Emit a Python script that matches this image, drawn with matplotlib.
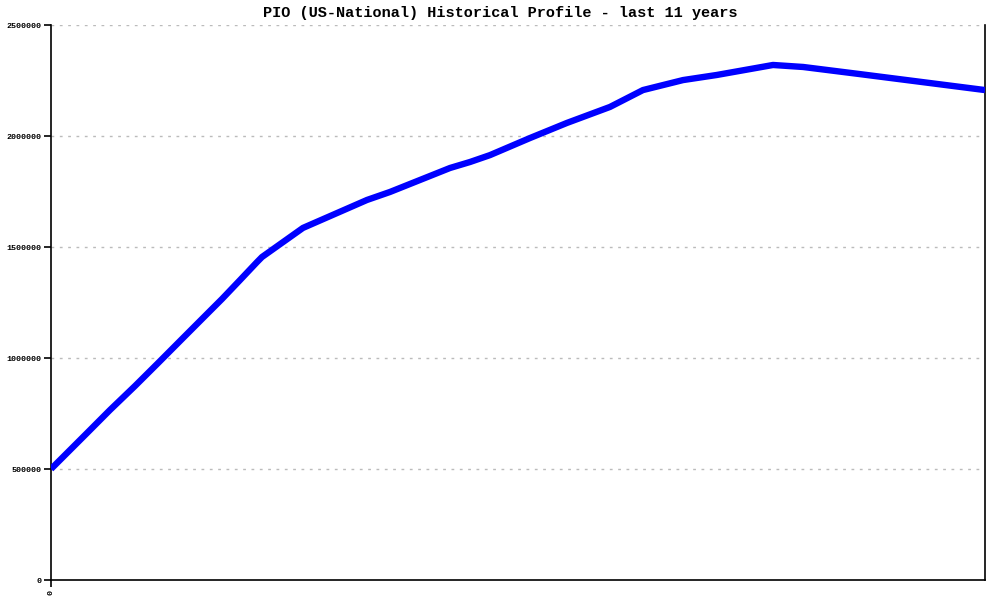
import matplotlib
matplotlib.use("Agg")
import matplotlib.pyplot as plt

# x positions in months since start of the 11-year window (estimated)
months = [0.0, 5.09, 8.34, 11.87, 15.12, 18.65, 22.19, 24.17, 26.71, 29.11, 29.82,
          35.61, 44.66, 47.91, 56.39, 59.22, 62.04, 67.70, 72.92, 79.0, 83.66,
          89.32, 94.1, 102.04, 106.3, 114.3, 132.0]
values = [500000, 662000, 766000, 874000, 977000, 1090000, 1203000, 1266000, 1351000,
          1432000, 1455000, 1586000, 1712000, 1748000, 1856000, 1883000, 1914000,
          1991000, 2059000, 2131000, 2207000, 2252000, 2275000, 2320000, 2311000,
          2279000, 2207000]
yticks = [0, 500000, 1000000, 1500000, 2000000, 2500000]
ytick_labels = ["0", "500000", "1000000", "1500000", "2000000", "2500000"]
title = "PIO (US-National) Historical Profile - last 11 years"

fig = plt.figure(figsize=(10, 6), dpi=100)
ax = fig.add_axes([0.051, 0.0333, 0.934, 0.925])
mono = ["Liberation Mono", "DejaVu Sans Mono"]

ax.plot(months, values, color="#0000ff", linewidth=4.6, solid_capstyle="butt",
        solid_joinstyle="round", zorder=3)

ax.set_xlim(0, 132)
ax.set_ylim(0, 2500000)
ax.set_yticks(yticks)
ax.set_yticklabels(ytick_labels, family=mono, fontsize=6, fontweight="bold")
ax.set_xticks([0])
ax.set_xticklabels(["0"], family=mono, fontsize=6, fontweight="bold", rotation=90)

for v in yticks[1:]:
    ax.axhline(v, color="#bbbbbb", linewidth=1, linestyle=(0, (2, 4)), zorder=1)

ax.spines["top"].set_visible(False)
for s in ["left", "bottom", "right"]:
    ax.spines[s].set_color("black")
    ax.spines[s].set_linewidth(1.2)
ax.tick_params(axis="y", direction="out", length=5, width=1.2, pad=2, colors="black")
ax.tick_params(axis="x", direction="out", length=5, width=1.2, pad=2, colors="black")

fig.text(0.5, 1 - 13 / 600, title, ha="center", va="center", family=mono,
         fontsize=11, fontweight="bold")

fig.savefig("out.png", dpi=100)
